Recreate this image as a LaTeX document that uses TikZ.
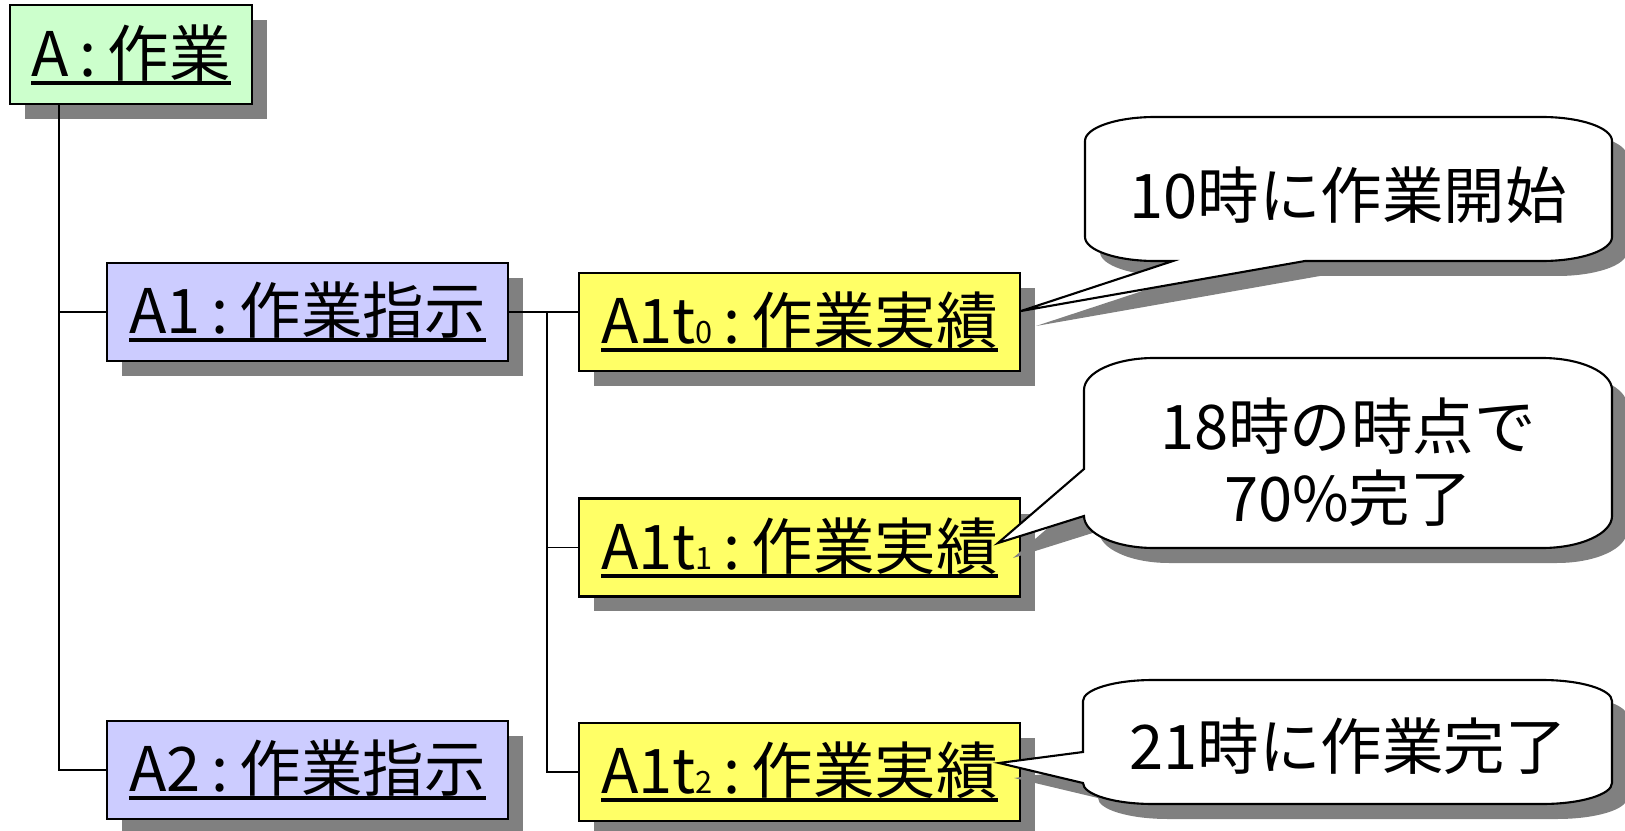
\documentclass[tikz,border=0pt]{standalone}
\usepackage{fontspec}
\newfontfamily\jpfont{Noto Sans CJK JP}
\usetikzlibrary{calc,shadows}

\definecolor{taskgreen}{HTML}{CCFFCC}
\definecolor{orderblue}{HTML}{CCCCFF}
\definecolor{resultyellow}{HTML}{FFFF66}

\newcommand{\ulbox}[1]{\setbox0\hbox{#1}\rlap{\rule[-0.135em]{\wd0}{0.065em}}\box0}
\newcommand{\csep}{\hspace{0.18em}:\hspace{0.18em}}
\newcommand{\tsub}[1]{{\fontsize{17.5}{20}\selectfont #1}}

\tikzset{
  box/.style={draw=black, line width=1.2pt, inner sep=0pt,
    font=\jpfont\fontsize{35}{41}\selectfont,
    drop shadow={shadow xshift=0.3cm, shadow yshift=-0.3cm, fill=black!50, opacity=1}},
  task/.style={box, fill=taskgreen, minimum width=4.84cm, minimum height=1.98cm},
  order/.style={box, fill=orderblue, minimum width=8.02cm, minimum height=1.96cm},
  result/.style={box, fill=resultyellow, minimum width=8.82cm, minimum height=1.96cm},
  link/.style={line width=1pt},
  bubble/.style={draw=black, fill=white, line width=1.2pt,
    drop shadow={shadow xshift=0.3cm, shadow yshift=-0.3cm, fill=black!50, opacity=1}},
  bubbletext/.style={font=\jpfont\fontsize{35}{41}\selectfont, align=center, inner sep=0pt}
}

\begin{document}
\begin{tikzpicture}[x=0.02cm, y=0.02cm]
    \useasboundingbox (0,0) rectangle (1625,-831);

    % Work and instructions
    \node[task] (A) at (131,-54.5) {\ulbox{A\csep 作業}};
    \node[order] (A1) at (307.5,-312) {\ulbox{A1\csep 作業指示}};
    \node[order] (A2) at (307.5,-770) {\ulbox{A2\csep 作業指示}};

    % Results
    \node[result] (T0) at (799.5,-322) {\ulbox{A1t\tsub{0}\csep 作業実績}};
    \node[result] (T1) at (799.5,-547.5) {\ulbox{A1t\tsub{1}\csep 作業実績}};
    \node[result] (T2) at (799.5,-772) {\ulbox{A1t\tsub{2}\csep 作業実績}};

    % Tree lines
    \coordinate (trunk) at ($(A.south west)+(50,0)$);
    \draw[link] (trunk) |- (A1.west);
    \draw[link] (trunk) |- (A2.west);
    \coordinate (fork) at ($(A1.east)+(38,0)$);
    \draw[link] (A1.east) -- (A1.east -| T0.west);
    \draw[link] (fork) |- (T1.west);
    \draw[link] (fork) |- (T2.west);

    % Callouts
    \coordinate (tip0) at ($(T0.east)+(0,11)$);
    \coordinate (tip1) at ($(T1.east)+(-23,4.5)$);
    \coordinate (tip2) at ($(T2.east)+(-22,9)$);

    \draw[bubble] (1155,-117) -- (1542,-117)
        arc[start angle=90, end angle=0, x radius=70, y radius=24] -- (1612,-237)
        arc[start angle=0, end angle=-90, x radius=70, y radius=24] -- (1305,-261)
        -- (tip0) -- (1173,-261) -- (1155,-261)
        arc[start angle=270, end angle=180, x radius=70, y radius=24] -- (1085,-141)
        arc[start angle=180, end angle=90, x radius=70, y radius=24] -- cycle;
    \node[bubbletext] (C0) at (1348,-195) {10時に作業開始};

    \draw[bubble] (1154,-358) -- (1542,-358)
        arc[start angle=90, end angle=0, x radius=70, y radius=32] -- (1612,-516)
        arc[start angle=0, end angle=-90, x radius=70, y radius=32] -- (1154,-548)
        arc[start angle=270, end angle=180, x radius=70, y radius=32]
        -- (tip1) -- (1084,-469) -- (1084,-390)
        arc[start angle=180, end angle=90, x radius=70, y radius=32] -- cycle;
    \node[bubbletext] (C1) at (1348,-462) {18時の時点で\\70\%完了};

    \draw[bubble] (1153,-680) -- (1542,-680)
        arc[start angle=90, end angle=0, x radius=70, y radius=21] -- (1612,-783)
        arc[start angle=0, end angle=-90, x radius=70, y radius=21] -- (1153,-804)
        arc[start angle=270, end angle=180, x radius=70, y radius=21]
        -- (tip2) -- (1083,-752) -- (1083,-701)
        arc[start angle=180, end angle=90, x radius=70, y radius=21] -- cycle;
    \node[bubbletext] (C2) at (1348,-746) {21時に作業完了};
\end{tikzpicture}
\end{document}
